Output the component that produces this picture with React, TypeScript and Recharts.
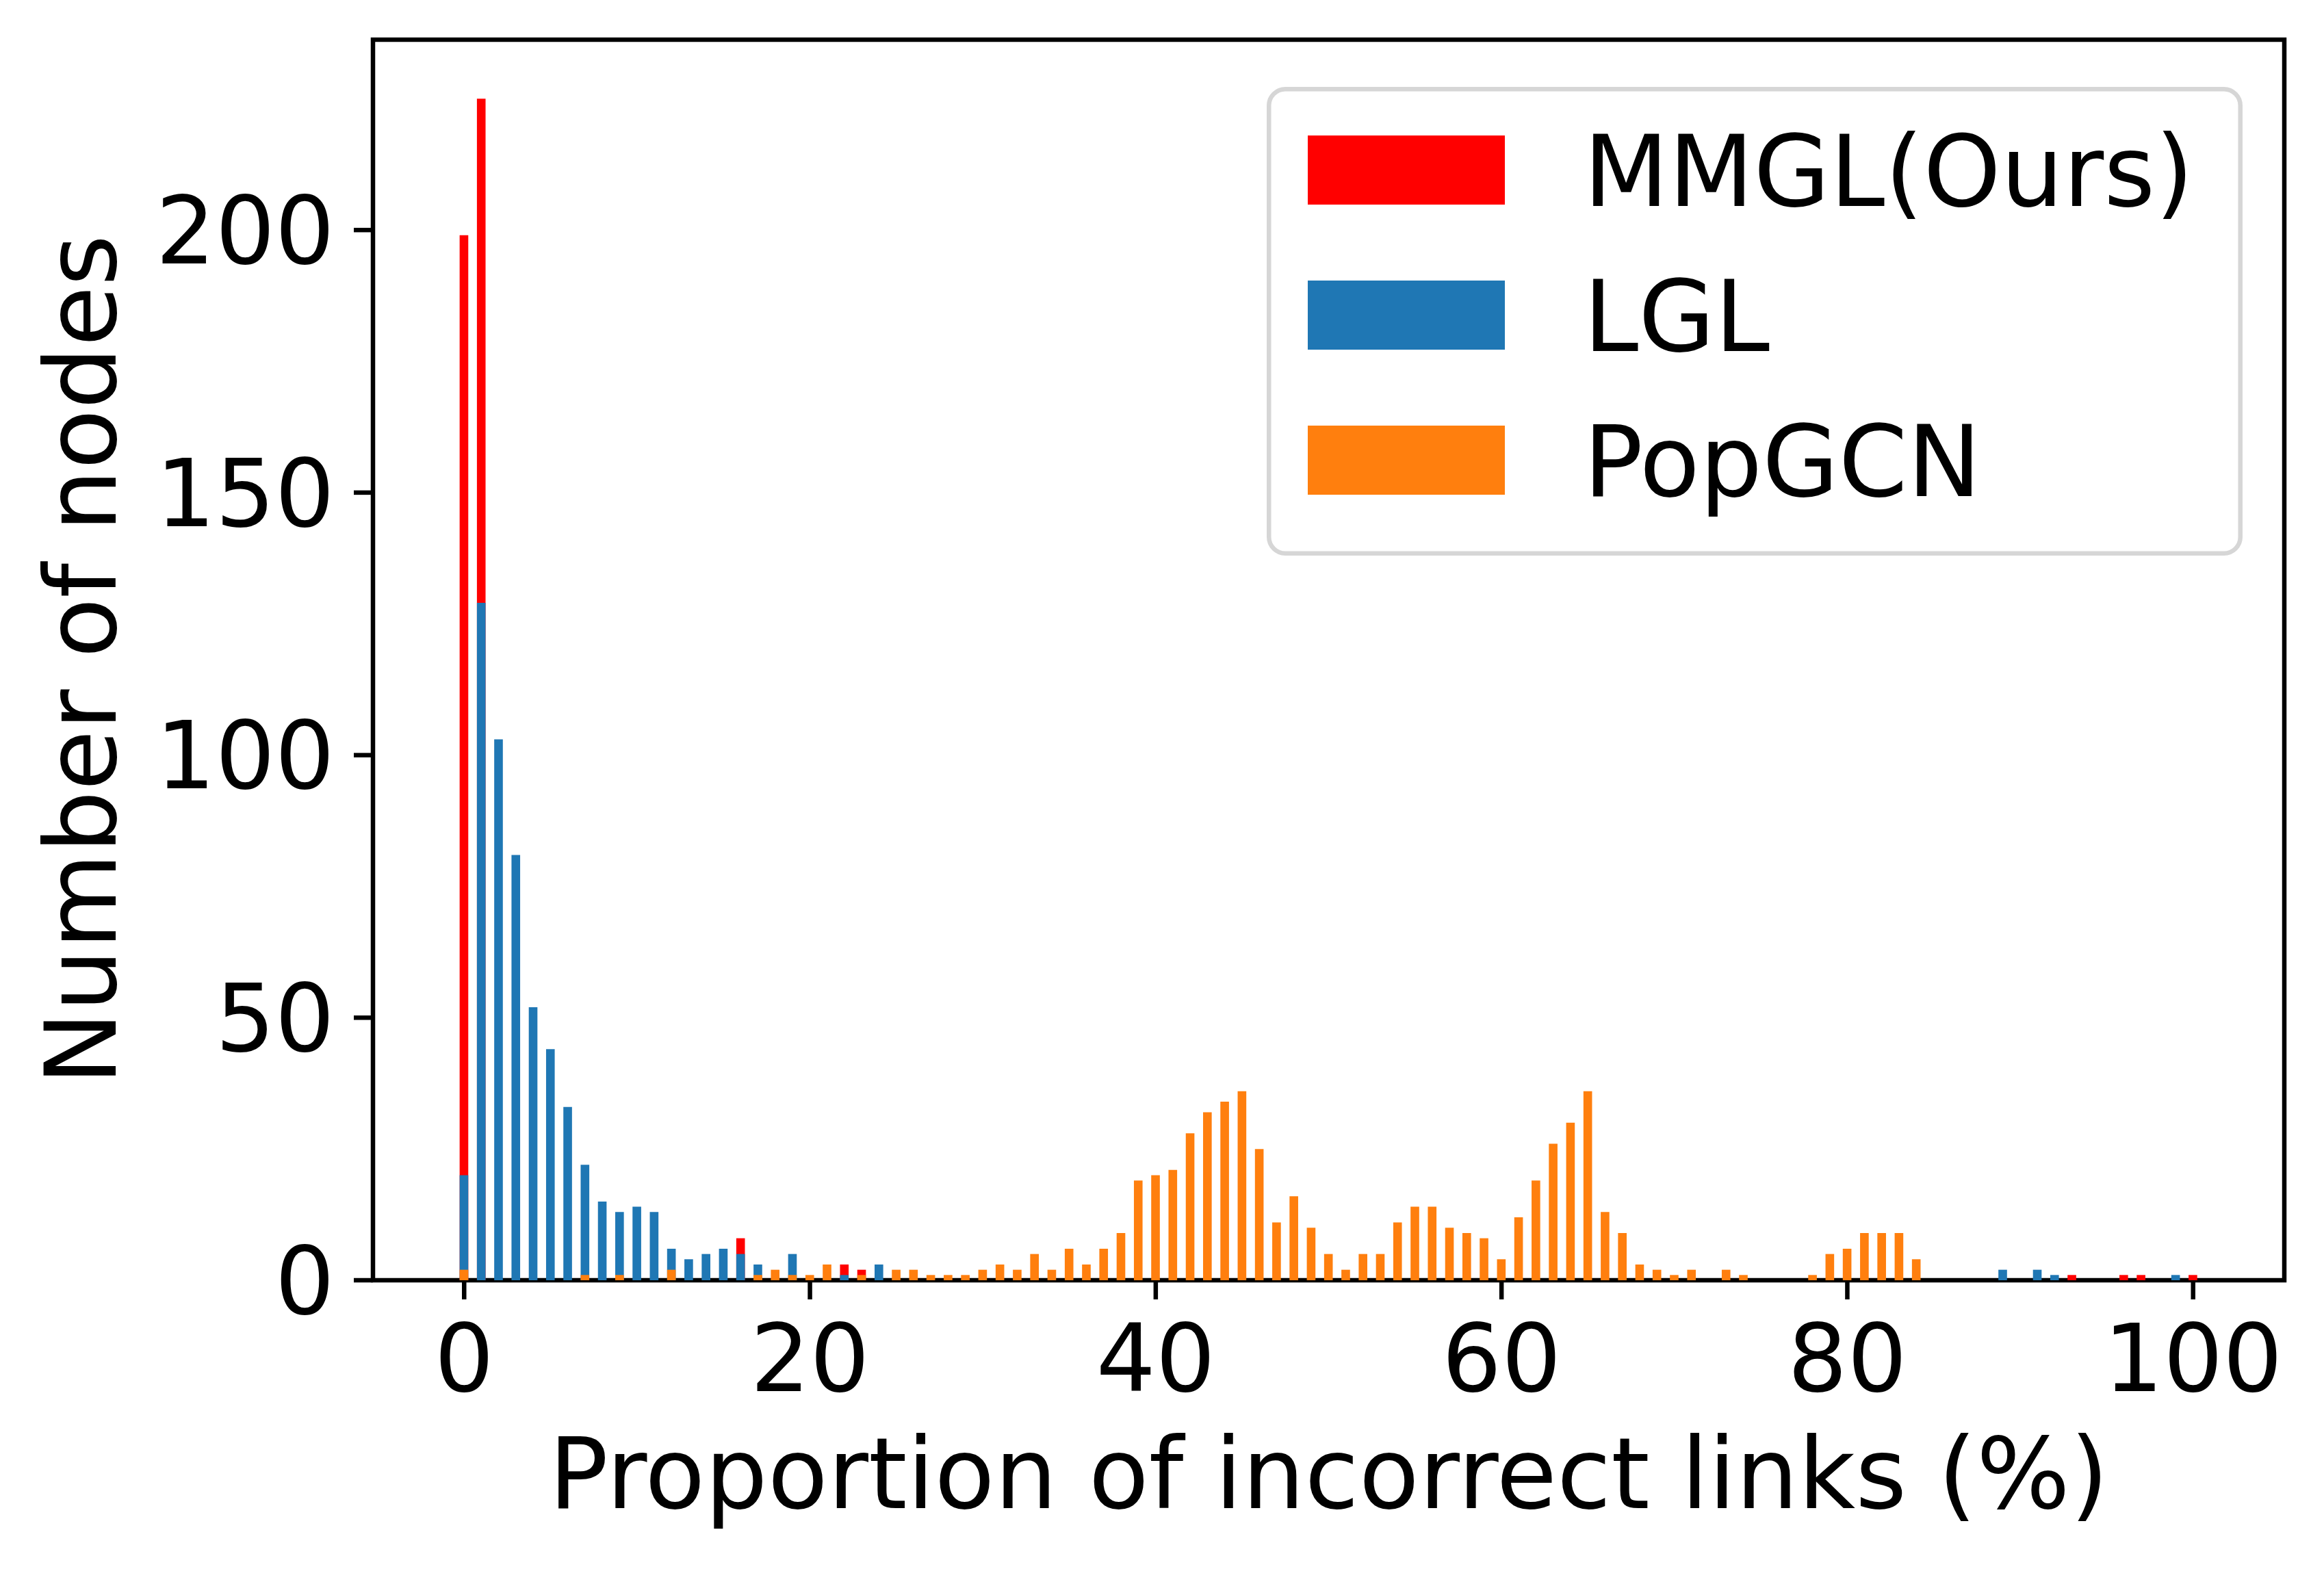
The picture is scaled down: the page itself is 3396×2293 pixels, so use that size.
import { Bar, BarChart, Legend, ReferenceArea, XAxis, YAxis } from "recharts";

// bins of the histogram (proportion of incorrect links, %)
const bins = [
  0, 1, 2, 3, 4, 5, 6, 7, 8, 9,
  10, 11, 12, 13, 14, 15, 16, 17, 18, 19,
  20, 21, 22, 23, 24, 25, 26, 27, 28, 29,
  30, 31, 32, 33, 34, 35, 36, 37, 38, 39,
  40, 41, 42, 43, 44, 45, 46, 47, 48, 49,
  50, 51, 52, 53, 54, 55, 56, 57, 58, 59,
  60, 61, 62, 63, 64, 65, 66, 67, 68, 69,
  70, 71, 72, 73, 74, 75, 76, 77, 78, 79,
  80, 81, 82, 83, 84, 85, 86, 87, 88, 89,
  90, 91, 92, 93, 94, 95, 96, 97, 98, 99,
  100,
];

const mmgl = [
  199, 225, 0, 0, 0, 0, 0, 0, 0, 0,
  0, 0, 0, 0, 0, 0, 8, 0, 0, 0,
  0, 0, 3, 2, 0, 0, 0, 0, 0, 0,
  0, 0, 0, 0, 0, 0, 0, 0, 0, 0,
  0, 0, 0, 0, 0, 0, 0, 0, 0, 0,
  0, 0, 0, 0, 0, 0, 0, 0, 0, 0,
  0, 0, 0, 0, 0, 0, 0, 0, 0, 0,
  0, 0, 0, 0, 0, 0, 0, 0, 0, 0,
  0, 0, 0, 0, 0, 0, 0, 0, 0, 0,
  0, 0, 0, 1, 0, 0, 1, 1, 0, 0,
  1,
];

const lgl = [
  20, 129, 103, 81, 52, 44, 33, 22, 15, 13,
  14, 13, 6, 4, 5, 6, 5, 3, 0, 5,
  0, 0, 1, 0, 3, 0, 0, 0, 0, 0,
  0, 0, 0, 0, 0, 0, 0, 0, 0, 0,
  0, 0, 0, 0, 0, 0, 0, 0, 0, 0,
  0, 0, 0, 0, 0, 0, 0, 0, 0, 0,
  0, 0, 0, 0, 0, 0, 0, 0, 0, 0,
  0, 0, 0, 0, 0, 0, 0, 0, 0, 0,
  0, 0, 0, 0, 0, 0, 0, 0, 0, 2,
  0, 2, 1, 0, 0, 0, 0, 0, 0, 1,
  0,
];

const popgcn = [
  2, 0, 0, 0, 0, 0, 0, 1, 0, 1,
  0, 0, 2, 0, 0, 0, 0, 1, 2, 1,
  1, 3, 0, 1, 0, 2, 2, 1, 1, 1,
  2, 3, 2, 5, 2, 6, 3, 6, 9, 19,
  20, 21, 28, 32, 34, 36, 25, 11, 16, 10,
  5, 2, 5, 5, 11, 14, 14, 10, 9, 8,
  4, 12, 19, 26, 30, 36, 13, 9, 3, 2,
  1, 2, 0, 2, 1, 0, 0, 0, 1, 5,
  6, 9, 9, 9, 4, 0, 0, 0, 0, 0,
  0, 0, 0, 0, 0, 0, 0, 0, 0, 0,
  0,
];

const seriesNames = ["MMGL(Ours)", "LGL", "PopGCN"];
const seriesKeys = ["mmgl", "lgl", "popgcn"];
const seriesColors = ["#ff0000", "#1f77b4", "#ff7f0e"];

const xTicks = [0, 20, 40, 60, 80, 100];
const yTicks = [0, 50, 100, 150, 200];

const data = bins.map((x, i) => ({
  x,
  mmgl: mmgl[i] || null,
  lgl: lgl[i] || null,
  popgcn: popgcn[i] || null,
}));

const W = 3396;
const H = 2293;
const LEFT = 545;
const RIGHT = 3338;
const TOP = 58;
const BOTTOM = 1871;
const X_MIN = -5.275;
const X_MAX = 105.275;
const Y_MAX = 236.25;
const AXIS_W = 400;
const FONT = "DejaVu Sans";
const LW = 6.5;
const LEG_W = 1426;
const LEG_H = 685;

const barWidth = (0.5 * (RIGHT - LEFT)) / (X_MAX - X_MIN);

function XTitle() {
  return (
    <text x={(LEFT + RIGHT) / 2} y={2204} textAnchor="middle" fontSize={144} fontFamily={FONT} fill="#000">
      Proportion of incorrect links (%)
    </text>
  );
}

function YTitle() {
  const cx = 169;
  const cy = (TOP + BOTTOM) / 2;
  return (
    <text x={cx} y={cy} transform={`rotate(-90 ${cx} ${cy})`} textAnchor="middle" fontSize={144} fontFamily={FONT} fill="#000">
      Number of nodes
    </text>
  );
}

function LegendBox() {
  return (
    <svg width={LEG_W} height={LEG_H} style={{ display: "block" }}>
      <rect x={LW / 2} y={LW / 2} width={LEG_W - LW} height={LEG_H - LW} rx={24} fill="#fff" stroke="#d6d6d6" strokeWidth={LW} />
      {seriesNames.map((name, i) => (
        <g key={name}>
          <rect x={60} y={71 + 212 * i} width={288} height={101} fill={seriesColors[i]} />
          <text x={463} y={174 + 212 * i} fontSize={144} fontFamily={FONT} fill="#000">
            {name}
          </text>
        </g>
      ))}
    </svg>
  );
}

export default function App() {
  return (
    <div style={{ position: "absolute", left: 0, top: 0, background: "#fff", fontFamily: FONT }}>
      <BarChart
        width={W}
        height={H}
        data={data}
        barGap={-barWidth}
        barSize={barWidth}
        margin={{ top: TOP, right: W - RIGHT, left: LEFT - AXIS_W, bottom: H - BOTTOM - AXIS_W }}
      >
        <XAxis
          dataKey="x"
          type="number"
          domain={[X_MIN, X_MAX]}
          allowDataOverflow
          ticks={xTicks}
          interval={0}
          height={AXIS_W}
          axisLine={false}
          tickSize={28}
          tickMargin={37}
          tickLine={{ stroke: "#000", strokeWidth: LW }}
          tick={{ fontSize: 137, fill: "#000", fontFamily: FONT }}
          label={{ content: XTitle }}
        />
        <YAxis
          type="number"
          domain={[0, Y_MAX]}
          allowDataOverflow
          ticks={yTicks}
          interval={0}
          width={AXIS_W}
          axisLine={false}
          tickSize={28}
          tickMargin={28}
          tickLine={{ stroke: "#000", strokeWidth: LW }}
          tick={{ fontSize: 137, fill: "#000", fontFamily: FONT }}
          label={{ content: YTitle }}
        />
        {seriesKeys.map((k, i) => (
          <Bar key={k} dataKey={k} name={seriesNames[i]} fill={seriesColors[i]} isAnimationActive={false} />
        ))}
        <ReferenceArea x1={X_MIN} x2={X_MAX} y1={0} y2={Y_MAX} fill="none" stroke="#000" strokeWidth={LW} />
        <Legend
          layout="vertical"
          align="center"
          verticalAlign="middle"
          content={LegendBox}
          wrapperStyle={{ position: "absolute", left: 1851, top: 127, width: LEG_W, height: LEG_H }}
        />
      </BarChart>
    </div>
  );
}
